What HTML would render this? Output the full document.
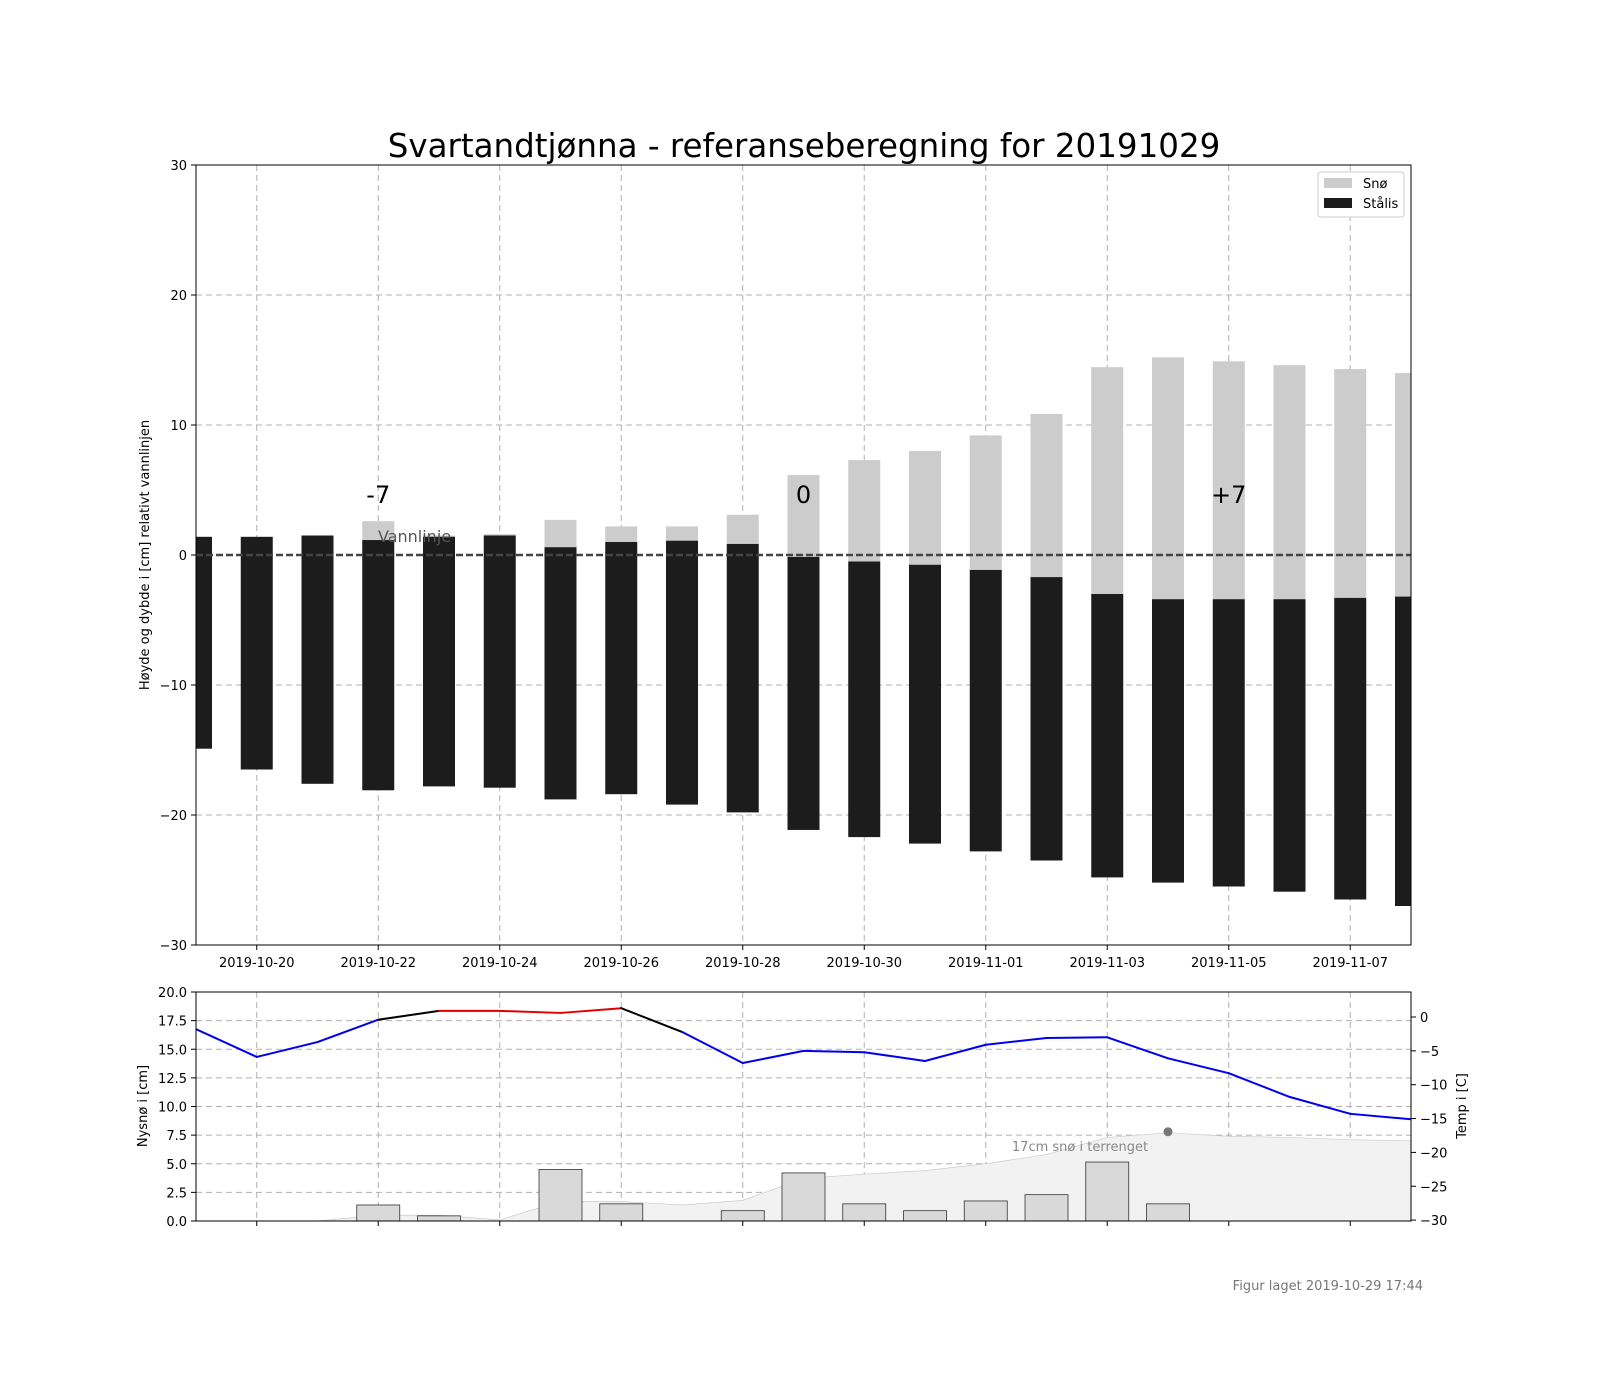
<!DOCTYPE html>
<html><head><meta charset="utf-8"><style>
body{margin:0;background:#fff}
svg{display:block;font-family:"DejaVu Sans","Liberation Sans",sans-serif}
</style></head><body>
<svg id="c" width="1600" height="1400" xmlns="http://www.w3.org/2000/svg">
<text x="804" y="157" font-size="32.5" text-anchor="middle">Svartandtjønna - referanseberegning for 20191029</text>
<text transform="translate(149,555) rotate(-90)" font-size="13" text-anchor="middle">Høyde og dybde i [cm] relativt vannlinjen</text>
<text transform="translate(147,1106) rotate(-90)" font-size="13" text-anchor="middle">Nysnø i [cm]</text>
<text transform="translate(1466,1106) rotate(-90)" font-size="13" text-anchor="middle">Temp i [C]</text>
<text x="1423" y="1290" font-size="13" fill="#777" text-anchor="end">Figur laget 2019-10-29 17:44</text>
<g id="topg"></g><g id="botg"></g>
</svg>
<script>
const days = ["2019-10-19","2019-10-20","2019-10-21","2019-10-22","2019-10-23","2019-10-24","2019-10-25","2019-10-26","2019-10-27","2019-10-28","2019-10-29","2019-10-30","2019-10-31","2019-11-01","2019-11-02","2019-11-03","2019-11-04","2019-11-05","2019-11-06","2019-11-07","2019-11-08"];
const iceTop = [1.4,1.4,1.5,1.15,1.4,1.5,0.6,1.0,1.1,0.85,-0.15,-0.5,-0.75,-1.15,-1.7,-3.0,-3.4,-3.4,-3.4,-3.3,-3.2];
const iceBottom = [-14.9,-16.5,-17.6,-18.1,-17.8,-17.9,-18.8,-18.4,-19.2,-19.8,-21.15,-21.7,-22.2,-22.8,-23.5,-24.8,-25.2,-25.5,-25.9,-26.5,-27.0];
const snowTop = [1.4,1.4,1.5,2.6,1.5,1.6,2.7,2.2,2.2,3.1,6.15,7.3,8.0,9.2,10.85,14.45,15.2,14.9,14.6,14.3,14.0];
const temps = [-1.8,-5.9,-3.7,-0.4,0.9,0.9,0.6,1.3,-2.2,-6.8,-5.0,-5.2,-6.5,-4.1,-3.1,-3.0,-6.1,-8.3,-11.8,-14.3,-15.1];
const newSnow = [0,0,0,1.4,0.45,0,4.5,1.5,0,0.9,4.2,1.5,0.9,1.75,2.3,5.15,1.5,0,0,0,0];
const terrainSnow = [0,0,0,0.5,0.5,0.1,1.7,1.7,1.4,1.8,3.7,4.1,4.4,5.0,5.8,7.3,7.7,7.4,7.3,7.1,7.0];
const xTickLabels = ["2019-10-20","2019-10-22","2019-10-24","2019-10-26","2019-10-28","2019-10-30","2019-11-01","2019-11-03","2019-11-05","2019-11-07"];
const yTicks = [-30,-20,-10,0,10,20,30];
const snowTicks = [0,2.5,5,7.5,10,12.5,15,17.5,20];
const tempTicks = [-30,-25,-20,-15,-10,-5,0];
const markers = [{d:"2019-10-22",t:"-7"},{d:"2019-10-29",t:"0"},{d:"2019-11-05",t:"+7"}];

const NS="http://www.w3.org/2000/svg";
const L=196,R=1411;
const d0=Date.parse("2019-10-19");
const xd=d=>L+(Date.parse(d)-d0)/864e5*60.75;
const xi=i=>L+i*60.75;
const yT=v=>555-v*13;
const yS=v=>1221-v*11.45;
const yC=v=>1017-v*6.77;
function mk(p,tag,a,txt){const e=document.createElementNS(NS,tag);for(const k in a)e.setAttribute(k,a[k]);if(txt!=null)e.textContent=txt;p.appendChild(e);return e;}
const topG=document.getElementById('topg'),botG=document.getElementById('botg');
mk(topG,'defs',{}).innerHTML='<clipPath id="ct"><rect x="196" y="165" width="1215" height="780"/></clipPath><clipPath id="cb"><rect x="196" y="992" width="1215" height="229"/></clipPath>';
xTickLabels.forEach(d=>{const x=xd(d);
 const g=mk(topG,'line',{x1:x,x2:x,y1:165,y2:945,stroke:'#b0b0b0','stroke-dasharray':'6,4'});
 
 
 mk(topG,'line',{x1:x,x2:x,y1:945,y2:950,stroke:'#000'});
 const t=mk(topG,'text',{x:x,y:967,'font-size':13,'text-anchor':'middle'},d);
 
 
 const g2=mk(botG,'line',{x1:x,x2:x,y1:992,y2:1221,stroke:'#b0b0b0','stroke-dasharray':'6,4'});
 
 
 mk(botG,'line',{x1:x,x2:x,y1:1221,y2:1226,stroke:'#000'});
});
yTicks.forEach(v=>{const y=yT(v);
 if(v>-30&&v<30){const g=mk(topG,'line',{x1:L,x2:R,y1:y,y2:y,stroke:'#b0b0b0','stroke-dasharray':'6,4'});
  
  }
 mk(topG,'line',{x1:L-5,x2:L,y1:y,y2:y,stroke:'#000'});
 const t=mk(topG,'text',{x:L-9,y:y+5,'font-size':13,'text-anchor':'end'},v<0?'\u2212'+(-v):String(v));
 
 
});
const bars=mk(topG,'g',{'clip-path':'url(#ct)'});


const bw=32;
days.forEach((d,i)=>{const x=xd(d)-bw/2;
 if(snowTop[i]>iceTop[i]){const s=mk(bars,'rect',{x:x,y:yT(snowTop[i]),width:bw,height:yT(iceTop[i])-yT(snowTop[i]),fill:'#cccccc'});
  
  }
 const b=mk(bars,'rect',{x:x,y:yT(iceTop[i]),width:bw,height:yT(iceBottom[i])-yT(iceTop[i]),fill:'#1c1c1c'});
 
 
});
const wl=mk(topG,'line',{x1:L,x2:R,y1:yT(0),y2:yT(0),stroke:'#444','stroke-width':2.5,'stroke-dasharray':'7,3'});


const vl=mk(topG,'text',{x:378,y:542,'font-size':16,fill:'#555'},'Vannlinje');


markers.forEach(m=>{const t=mk(topG,'text',{x:xd(m.d),y:503,'font-size':24,'text-anchor':'middle'},m.t);
 
 });
mk(topG,'rect',{x:L,y:165,width:R-L,height:780,fill:'none',stroke:'#000'});
const lg=mk(topG,'g',{});


mk(lg,'rect',{x:1318,y:172,width:86,height:45,rx:3,fill:'#fff',stroke:'#ccc'});
mk(lg,'rect',{x:1324,y:178,width:28,height:10,fill:'#cccccc'});
mk(lg,'text',{x:1363,y:188,'font-size':13},'Snø');
mk(lg,'rect',{x:1324,y:198,width:28,height:10,fill:'#1c1c1c'});
mk(lg,'text',{x:1363,y:208,'font-size':13},'Stålis');
snowTicks.forEach(v=>{const y=yS(v);
 if(v>0&&v<20){const g=mk(botG,'line',{x1:L,x2:R,y1:y,y2:y,stroke:'#b0b0b0','stroke-dasharray':'6,4'});
  
  }
 mk(botG,'line',{x1:L-5,x2:L,y1:y,y2:y,stroke:'#000'});
 const t=mk(botG,'text',{x:L-9,y:y+5,'font-size':13,'text-anchor':'end'},v.toFixed(1));
 
 
});
tempTicks.forEach(v=>{const y=yC(v);
 mk(botG,'line',{x1:R,x2:R+5,y1:y,y2:y,stroke:'#000'});
 const t=mk(botG,'text',{x:R+9,y:y+5,'font-size':13},v<0?'\u2212'+(-v):String(v));
 
 
});
const bc=mk(botG,'g',{'clip-path':'url(#cb)'});
let pts=`M${xi(0)},${yS(0)} `+terrainSnow.map((v,i)=>`L${xi(i)},${yS(v)}`).join(' ')+` L${xi(terrainSnow.length-1)},${yS(0)} Z`;
const ar=mk(bc,'path',{d:pts,fill:'#f2f2f2',stroke:'#ccc','stroke-width':0.7});


days.forEach((d,i)=>{if(newSnow[i]>0){const r=mk(bc,'rect',{x:xd(d)-21.5,y:yS(newSnow[i]),width:43,height:yS(0)-yS(newSnow[i]),fill:'#d9d9d9',stroke:'#333','stroke-width':0.8});
 
 }});
for(let i=0;i<temps.length-1;i++){const a=temps[i],b=temps[i+1];
 const col=(a>0&&b>0)?'#e00000':(a<0&&b<0)?'#0000ee':'#000';
 const s=mk(bc,'line',{x1:xi(i),y1:yC(a),x2:xi(i+1),y2:yC(b),stroke:col,'stroke-width':2,'stroke-linecap':'round'});
 
 }
const mi=terrainSnow.indexOf(Math.max(...terrainSnow));
const dot=mk(botG,'circle',{cx:xi(mi),cy:yS(7.8),r:4.5,fill:'#777'});


const tl=mk(botG,'text',{x:1080,y:1151,'font-size':13,fill:'#888','text-anchor':'middle'},'17cm snø i terrenget');


mk(botG,'rect',{x:L,y:992,width:R-L,height:229,fill:'none',stroke:'#000'});
</script>
</body></html>
